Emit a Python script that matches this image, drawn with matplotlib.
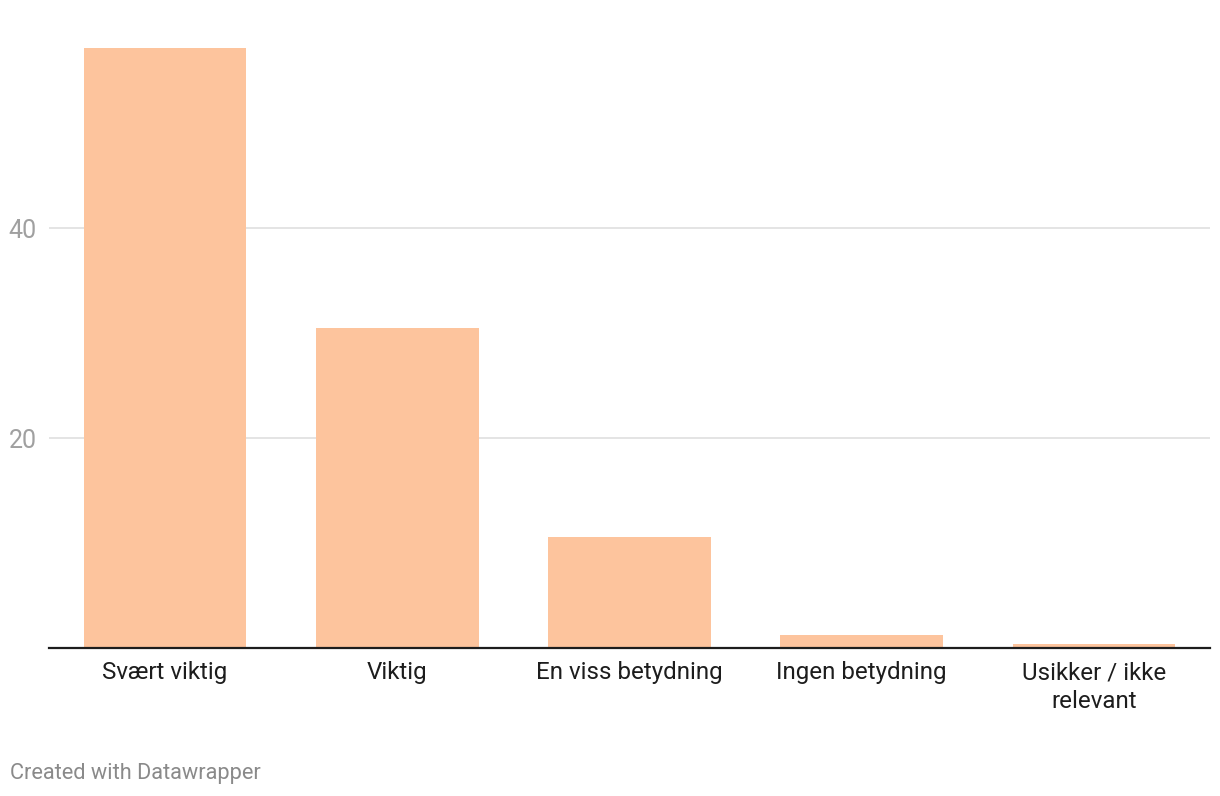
import matplotlib
matplotlib.use("Agg")
import matplotlib.pyplot as plt

plt.rcParams['font.family'] = ['Roboto', 'DejaVu Sans']

# data
categories = ["Svært viktig", "Viktig", "En viss betydning", "Ingen betydning", "Usikker / ikke\nrelevant"]
values = [57.1, 30.5, 10.6, 1.2, 0.4]
yticks = [20, 40]

bar_color = '#fdc49d'

fig = plt.figure(figsize=(12.2, 7.96), dpi=100)
# axes box in pixels: left 49, right 1210, bottom 648, top 20
W, H = 1220, 796
ax = fig.add_axes([49 / W, 1 - 648 / H, (1210 - 49) / W, (648 - 20) / H])

x = range(len(categories))
ax.bar(x, values, width=0.70, color=bar_color, zorder=2)

ax.set_xlim(-0.5, len(categories) - 0.5)
ax.set_ylim(0, (648 - 20) / 10.5)

ax.set_yticks(yticks)
ax.set_yticklabels([str(t) for t in yticks], color='#a0a0a0', fontsize=18)
ax.yaxis.grid(True, color='#e2e2e2', linewidth=1.3, zorder=0)
ax.tick_params(axis='y', length=0, pad=9)

ax.set_xticks(list(x))
ax.set_xticklabels(categories, fontsize=17.4, color='#1d1d1d', linespacing=1.35)
ax.tick_params(axis='x', length=0, pad=9.5)

for s in ['top', 'right', 'left']:
    ax.spines[s].set_visible(False)
ax.spines['bottom'].set_color('#1d1d1d')
ax.spines['bottom'].set_linewidth(1.6)
ax.spines['bottom'].set_zorder(3)

fig.text(10 / W, 1 - 773 / H, "Created with Datawrapper", fontsize=15.7, color='#8a8a8a',
         va='center', ha='left')

fig.savefig('out.png', dpi=100)
